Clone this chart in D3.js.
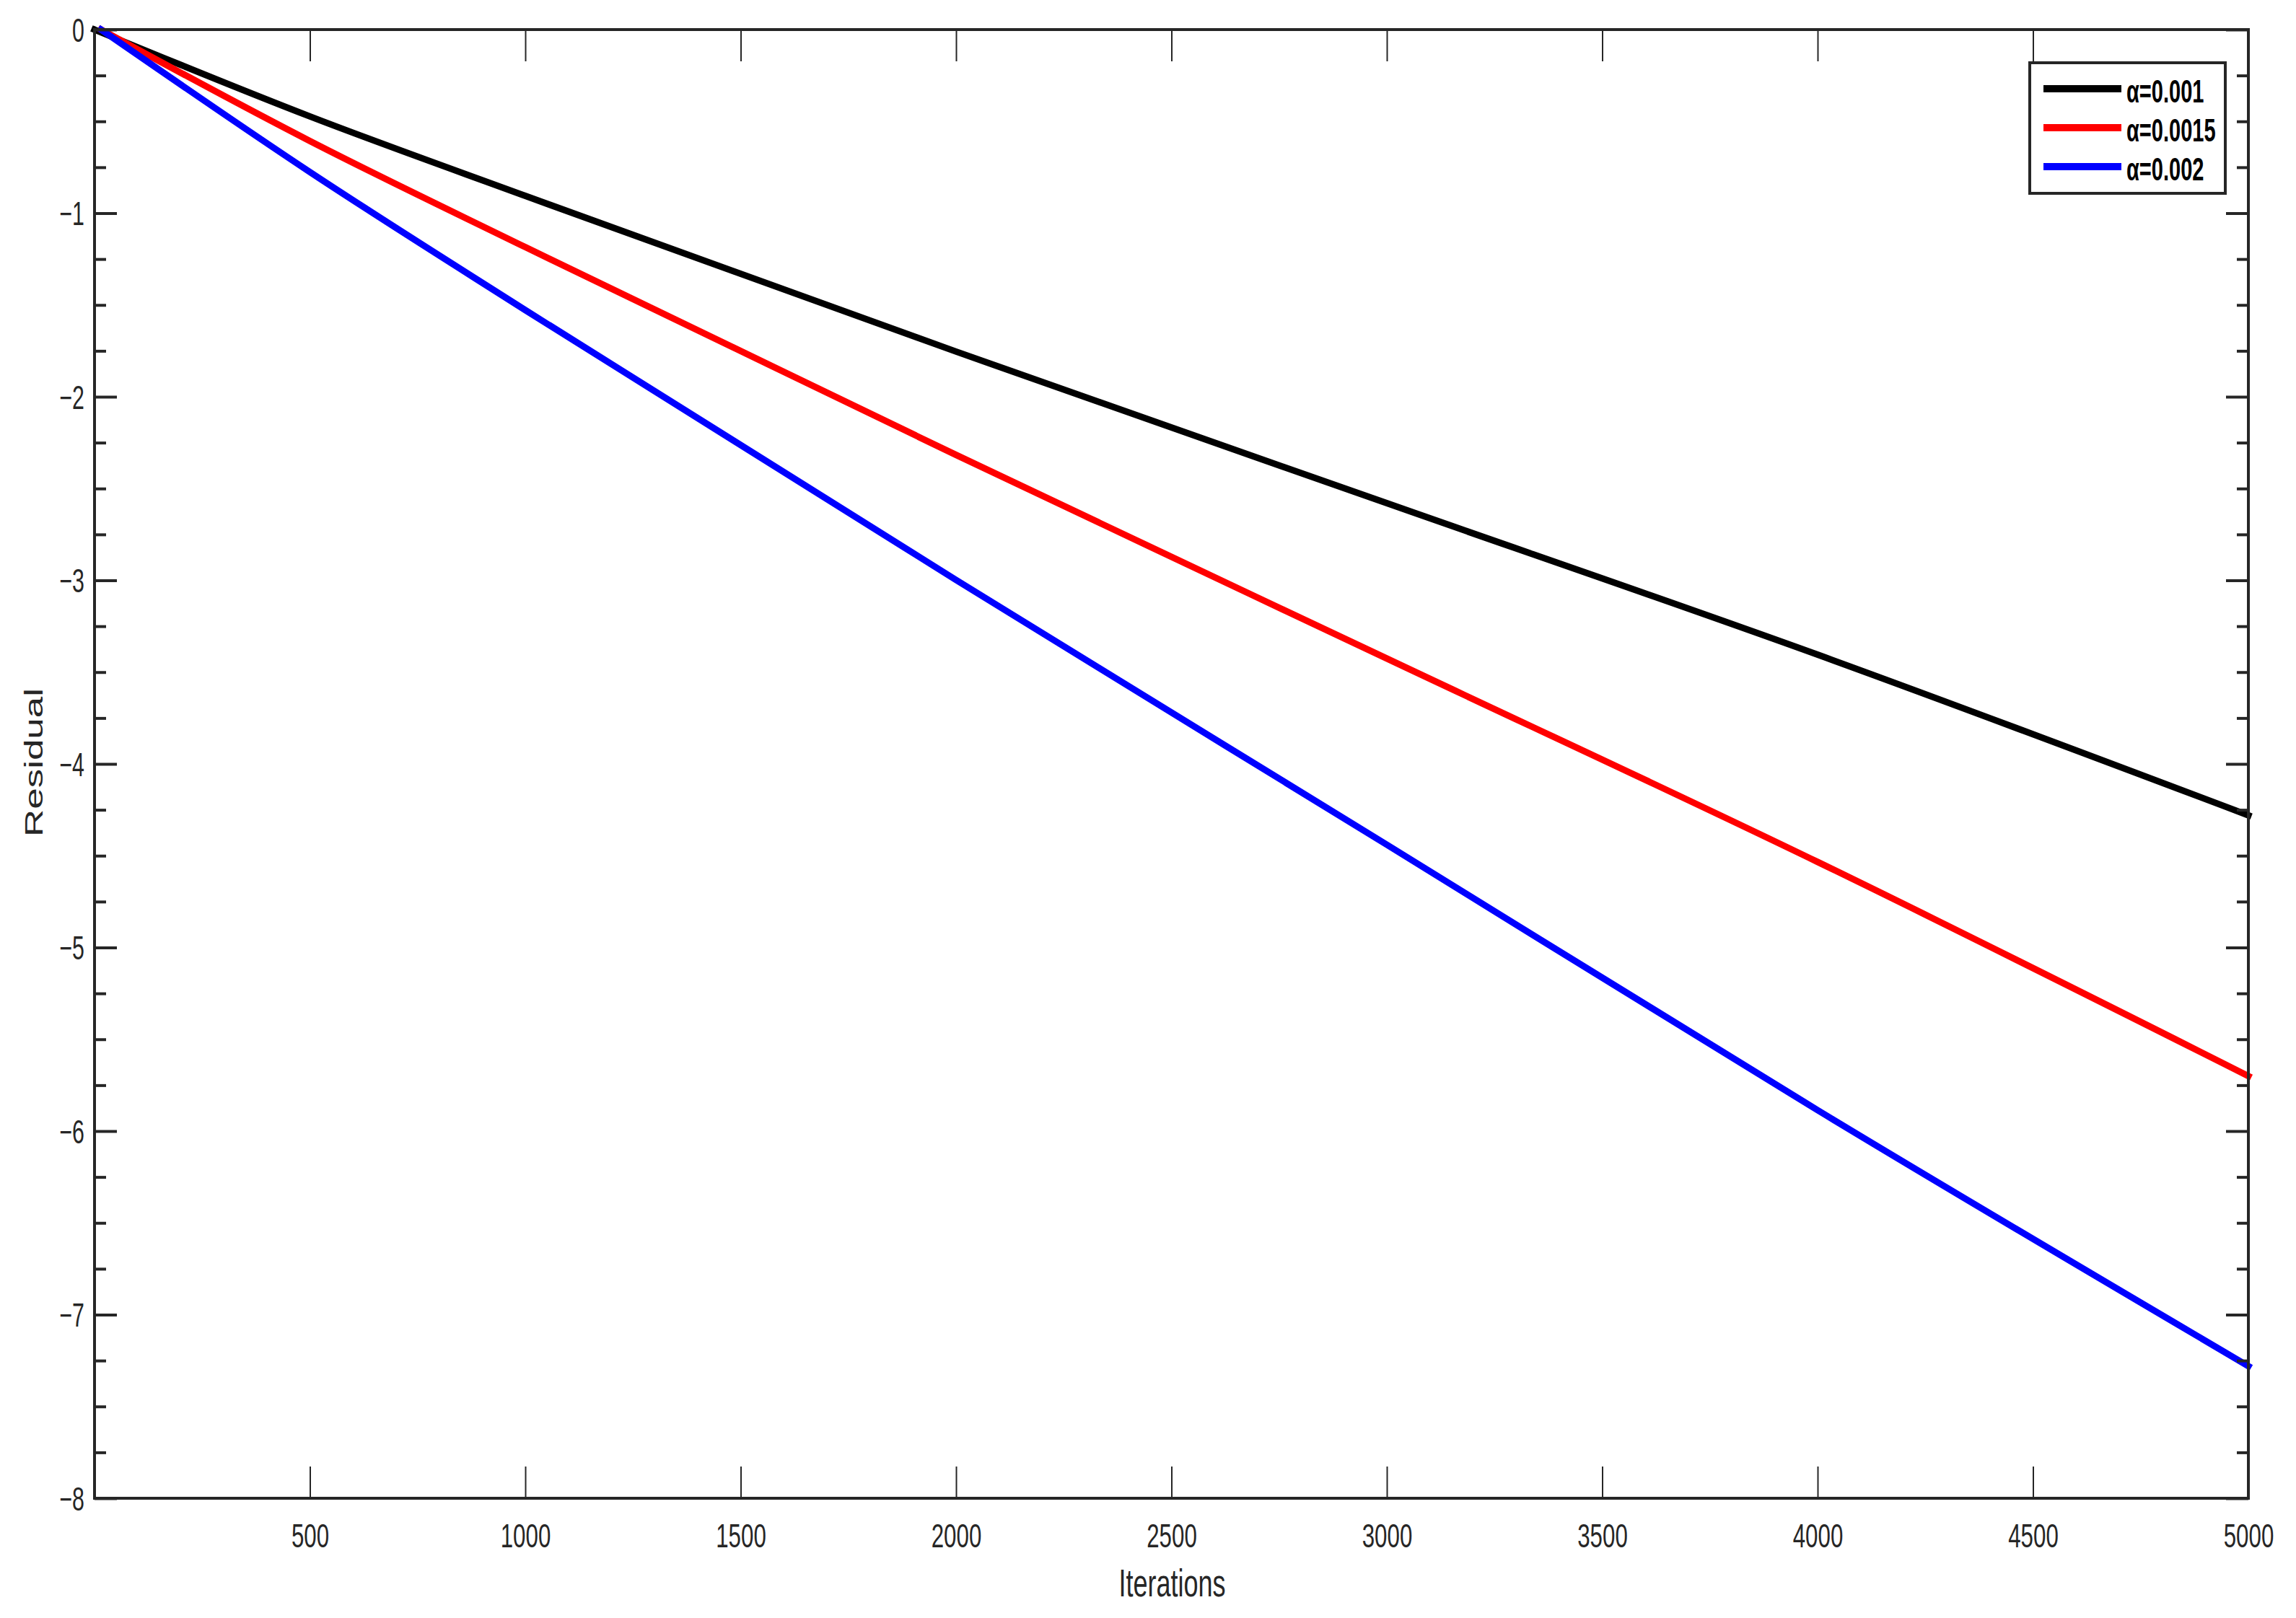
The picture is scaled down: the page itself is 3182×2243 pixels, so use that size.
<!DOCTYPE html>
<html>
<head>
<meta charset="utf-8">
<script src="https://cdn.jsdelivr.net/npm/d3@7"></script>
<style>
  body { margin: 0; background: #ffffff; }
  text { font-family: "Liberation Sans", Arial, sans-serif; }
</style>
</head>
<body>
<div class="chart"></div>
<script>
// Data.
const iterBlack = [0, 500, 1000, 2000, 3000, 4000, 5000];
const iterRed = [15, 500, 1000, 2000, 3000, 4000, 5000];
const iterBlue = [15, 500, 1000, 2000, 3000, 4000, 5000];
const resBlack = [0, -0.473, -0.906, -1.754, -2.58, -3.405, -4.28];
const resRed = [0, -0.607, -1.185, -2.317, -3.426, -4.534, -5.70];
const resBlue = [0, -0.776, -1.528, -2.998, -4.44, -5.886, -7.28];
const seriesNames = ["α=0.001", "α=0.0015", "α=0.002"];
const seriesColors = ["#000000", "#ff0000", "#0000ff"];
const xTicks = [500, 1000, 1500, 2000, 2500, 3000, 3500, 4000, 4500, 5000];
const yTicks = [-8, -7, -6, -5, -4, -3, -2, -1, 0];
const yMinorTicks = d3.range(-8, 0.001, 0.25).filter(v => !Number.isInteger(v));

const width = 3182, height = 2243;
const mLeft = 131, mRight = 3116, mTop = 41, mBottom = 2077;
const axisColor = "#262626";

const svg = d3.select(".chart").append("svg")
  .attr("width", width)
  .attr("height", height)
  .attr("viewBox", [0, 0, width, height]);

const x = d3.scaleLinear().domain([0, 5000]).range([mLeft, mRight]);
const y = d3.scaleLinear().domain([-8, 0]).range([mBottom, mTop]);

// Series lines.
const series = [
  { it: iterBlack, v: resBlack },
  { it: iterRed, v: resRed },
  { it: iterBlue, v: resBlue }
];
const line = d3.line().x(d => x(d[0])).y(d => y(d[1])).curve(d3.curveMonotoneX);
series.forEach((s, i) => {
  svg.append("path")
    .datum(s.it.map((t, j) => [t, s.v[j]]))
    .attr("fill", "none")
    .attr("stroke", seriesColors[i])
    .attr("stroke-width", 9)
    .attr("stroke-linecap", "square")
    .attr("d", line);
});

// Helper to style an axis group: no domain line, coloured ticks.
function styleAxis(g, w) {
  g.select(".domain").remove();
  g.selectAll(".tick line").attr("stroke", axisColor).attr("stroke-width", w);
  g.selectAll("text").attr("fill", axisColor);
}

// Bottom x axis with inward ticks and condensed labels.
const gx = svg.append("g")
  .attr("transform", `translate(0,${mBottom})`)
  .call(d3.axisBottom(x).tickValues(xTicks).tickSize(-44).tickSizeOuter(0)
    .tickFormat(d3.format("d")));
styleAxis(gx, 2);
gx.selectAll("text")
  .attr("y", 0).attr("dy", null)
  .attr("font-size", 46)
  .attr("text-anchor", "middle")
  .attr("transform", "translate(0,68) scale(0.68,1)");

// Top x axis, ticks only.
const gxTop = svg.append("g")
  .attr("transform", `translate(0,${mTop})`)
  .call(d3.axisTop(x).tickValues(xTicks).tickSize(-44).tickSizeOuter(0).tickFormat(""));
styleAxis(gxTop, 2);

// Left y axis: major ticks with labels, minor ticks.
const gy = svg.append("g")
  .attr("transform", `translate(${mLeft},0)`)
  .call(d3.axisLeft(y).tickValues(yTicks).tickSize(-31).tickSizeOuter(0)
    .tickFormat(d => d < 0 ? "\u2212" + Math.abs(d) : d));
styleAxis(gy, 4);
gy.selectAll("text")
  .attr("x", 0).attr("dy", "0.35em")
  .attr("font-size", 46)
  .attr("text-anchor", "end")
  .attr("transform", "translate(-14,0) scale(0.66,1)");
const gyMinor = svg.append("g")
  .attr("transform", `translate(${mLeft},0)`)
  .call(d3.axisLeft(y).tickValues(yMinorTicks).tickSize(-16).tickSizeOuter(0).tickFormat(""));
styleAxis(gyMinor, 4);

// Right y axis, ticks only.
const gyR = svg.append("g")
  .attr("transform", `translate(${mRight},0)`)
  .call(d3.axisRight(y).tickValues(yTicks).tickSize(-31).tickSizeOuter(0).tickFormat(""));
styleAxis(gyR, 4);
const gyRMinor = svg.append("g")
  .attr("transform", `translate(${mRight},0)`)
  .call(d3.axisRight(y).tickValues(yMinorTicks).tickSize(-16).tickSizeOuter(0).tickFormat(""));
styleAxis(gyRMinor, 4);

// Box around the plot.
svg.append("rect")
  .attr("x", mLeft).attr("y", mTop)
  .attr("width", mRight - mLeft).attr("height", mBottom - mTop)
  .attr("fill", "none")
  .attr("stroke", axisColor)
  .attr("stroke-width", 4);

// Axis titles.
svg.append("text")
  .attr("transform", `translate(${(mLeft + mRight) / 2 + 1},2213) scale(0.68,1)`)
  .attr("text-anchor", "middle")
  .attr("font-size", 53)
  .attr("fill", axisColor)
  .text("Iterations");
svg.append("text")
  .attr("transform", `translate(59,1057) scale(0.66,1) rotate(-90)`)
  .attr("text-anchor", "middle")
  .attr("font-size", 53)
  .attr("fill", axisColor)
  .text("Residual");

// Legend.
const legend = svg.append("g");
legend.append("rect")
  .attr("x", 2813).attr("y", 87)
  .attr("width", 271).attr("height", 181)
  .attr("fill", "#ffffff")
  .attr("stroke", axisColor)
  .attr("stroke-width", 4);
seriesNames.forEach((name, i) => {
  const ly = 123 + i * 54;
  legend.append("line")
    .attr("x1", 2832).attr("x2", 2940)
    .attr("y1", ly).attr("y2", ly)
    .attr("stroke", seriesColors[i])
    .attr("stroke-width", 10);
  legend.append("text")
    .attr("transform", `translate(2947,${ly + 19}) scale(0.66,1)`)
    .attr("font-size", 44)
    .attr("font-weight", "bold")
    .attr("fill", "#000000")
    .text(name);
});
</script>
</body>
</html>
